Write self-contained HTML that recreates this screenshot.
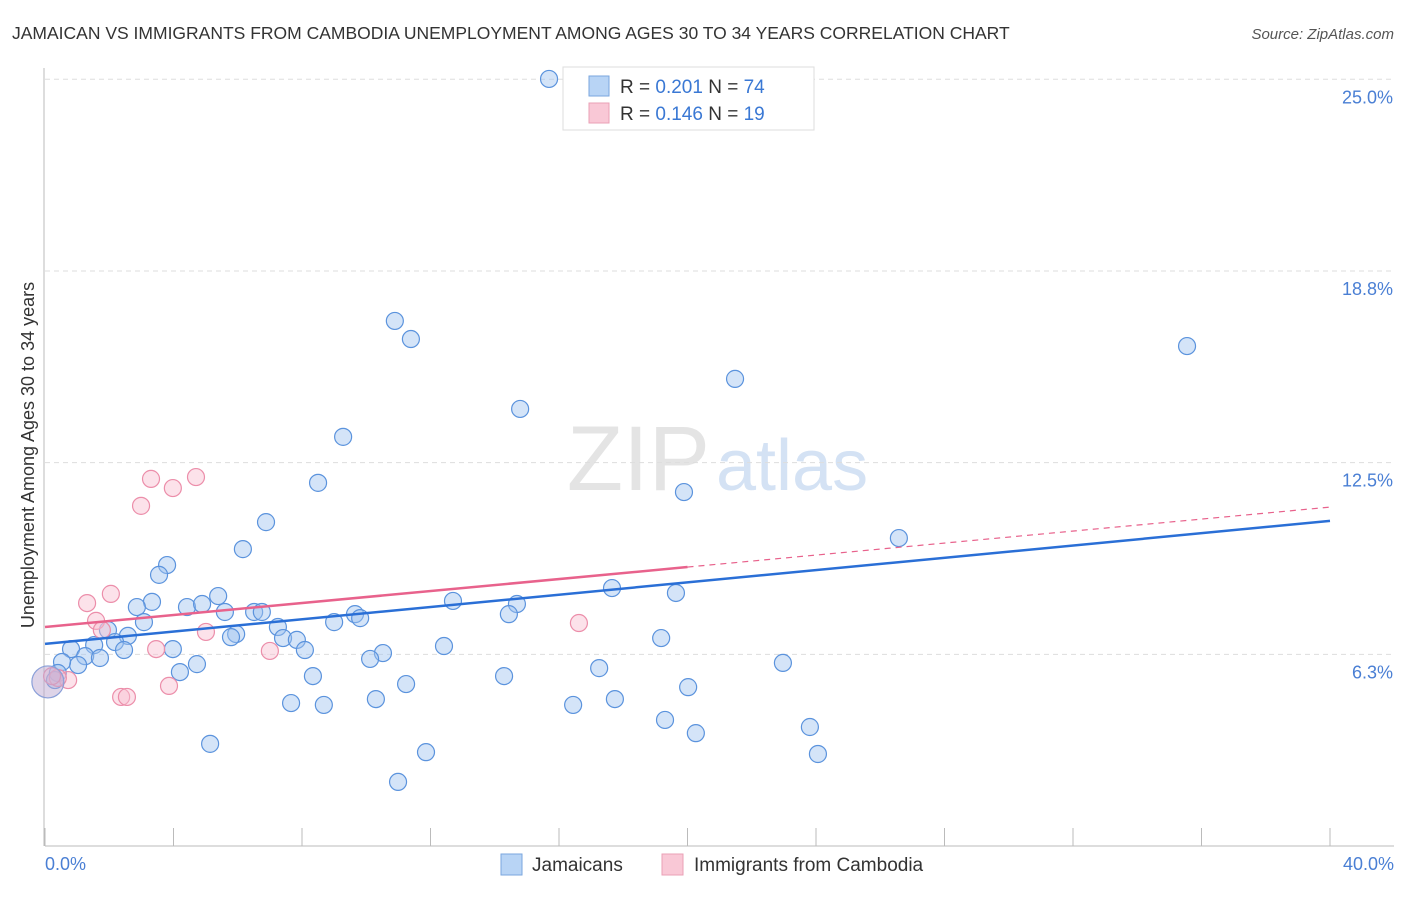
<!DOCTYPE html>
<html><head><meta charset="utf-8"><style>
body{margin:0;background:#fff;font-family:"Liberation Sans",sans-serif}
svg text{font-family:"Liberation Sans",sans-serif}
</style></head><body>
<svg id="c" width="1406" height="892">
<text x="12" y="39" font-size="17.5" fill="#333">JAMAICAN VS IMMIGRANTS FROM CAMBODIA UNEMPLOYMENT AMONG AGES 30 TO 34 YEARS CORRELATION CHART</text>
<text x="1394" y="39" font-size="15" fill="#555" font-style="italic" text-anchor="end">Source: ZipAtlas.com</text>
<text x="710" y="490" font-size="92" fill="#e4e4e4" text-anchor="end" font-family="Liberation Serif">ZIP</text>
<text x="716" y="490" font-size="72" fill="#d4e2f4">atlas</text>
<g id="grid"></g><g id="pts"></g><g id="trend"></g>
<text transform="translate(34,455) rotate(-90)" font-size="18" fill="#333" text-anchor="middle">Unemployment Among Ages 30 to 34 years</text>
<text x="45" y="870" font-size="18" fill="#4a7fd4">0.0%</text>
<text x="1394" y="870" font-size="18" fill="#4a7fd4" text-anchor="end">40.0%</text>
<g>
<rect x="501" y="854" width="21" height="21" fill="#b8d4f5" stroke="#7aa6de"/>
<text x="532" y="871" font-size="19" fill="#333">Jamaicans</text>
<rect x="662" y="854" width="21" height="21" fill="#f9c8d6" stroke="#eaa0b6"/>
<text x="694" y="871" font-size="19" fill="#333">Immigrants from Cambodia</text>
</g>
<g>
<rect x="563" y="67" width="251" height="63" fill="#fff" stroke="#ddd"/>
<rect x="589" y="76" width="20" height="20" fill="#b8d4f5" stroke="#7aa6de"/>
<text x="620" y="93" font-size="19" fill="#333">R = <tspan fill="#3a78d4">0.201</tspan>   N = <tspan fill="#3a78d4">74</tspan></text>
<rect x="589" y="103" width="20" height="20" fill="#f9c8d6" stroke="#eaa0b6"/>
<text x="620" y="120" font-size="19" fill="#333">R = <tspan fill="#3a78d4">0.146</tspan>   N = <tspan fill="#3a78d4">19</tspan></text>
</g>
</svg>
<script>
const yTicks=[25.0,18.75,12.5,6.25];
const yTickLabels=["25.0%","18.8%","12.5%","6.3%"];
const xTicks=[0,4,8,12,16,20,24,28,32,36,40];
const blueX=[15.69,10.89,11.39,35.55,21.48,14.79,9.28,8.50,19.89,6.88,26.58,6.16,3.80,3.55,17.65,19.64,5.39,3.33,2.86,4.42,4.89,12.70,14.69,14.44,9.65,9.81,5.60,6.51,6.75,3.08,9.00,7.25,1.96,2.58,19.18,5.95,5.79,7.41,7.84,2.18,1.53,8.09,2.46,12.42,3.98,0.81,1.25,1.71,10.52,10.12,22.97,4.73,17.25,1.03,0.53,4.20,8.34,14.29,0.40,0.31,11.24,20.02,10.30,7.66,8.68,17.74,16.44,19.30,23.81,20.26,5.14,11.86,24.06,10.99];
const blueY=[25.01,17.12,16.53,16.30,15.23,14.25,13.34,11.84,11.54,10.56,10.04,9.68,9.16,8.84,8.41,8.25,8.15,7.96,7.79,7.79,7.89,7.99,7.89,7.56,7.56,7.43,7.63,7.63,7.63,7.30,7.30,7.14,7.04,6.85,6.78,6.91,6.81,6.78,6.72,6.65,6.55,6.39,6.39,6.52,6.42,6.42,6.19,6.13,6.29,6.10,5.97,5.93,5.80,5.90,6.00,5.67,5.54,5.54,5.64,5.41,5.28,5.18,4.79,4.66,4.60,4.79,4.60,4.11,3.88,3.68,3.33,3.06,3.00,2.09];
const pinkX=[3.30,4.70,3.98,2.99,1.31,2.05,1.59,1.77,5.01,16.62,3.46,7.00,3.86,2.37,2.55,0.72,0.40,0.22];
const pinkY=[11.97,12.03,11.67,11.09,7.92,8.22,7.34,7.04,6.98,7.27,6.42,6.36,5.22,4.86,4.86,5.41,5.48,5.54];
const blueTrend=[6.59,10.60];
const pinkTrend=[7.14,11.05];
const NS="http://www.w3.org/2000/svg";
const xs=v=>45+v*32.125, ys=v=>846-v*30.67;
function mk(t,a,p){const e=document.createElementNS(NS,t);for(const k in a)e.setAttribute(k,a[k]);p.appendChild(e);return e;}
const grid=document.getElementById('grid');
yTicks.forEach((t,i)=>{
 const l=mk('line',{x1:45,x2:1394,y1:ys(t),y2:ys(t),stroke:'#ddd','stroke-dasharray':'5,4'},grid);
 
 
 const tx=mk('text',{x:1393,y:ys(t)+24,'font-size':18,fill:'#4a7fd4','text-anchor':'end'},grid);
 tx.textContent=yTickLabels[i];
 
 
});
const ax=mk('line',{x1:45,x2:1394,y1:846,y2:846,stroke:'#bbb'},grid);


const ay=mk('line',{x1:44,x2:44,y1:68,y2:846,stroke:'#bbb'},grid);


xTicks.forEach(t=>{const l=mk('line',{x1:xs(t),x2:xs(t),y1:828,y2:846,stroke:'#bbb'},grid);
 
 });
const pts=document.getElementById('pts');
blueX.forEach((x,i)=>{const c=mk('circle',{cx:xs(x),cy:ys(blueY[i]),r:8.5,fill:'rgba(160,196,240,0.45)',stroke:'#5b93dd','stroke-width':1.2},pts);
 
 });
pinkX.forEach((x,i)=>{const c=mk('circle',{cx:xs(x),cy:ys(pinkY[i]),r:8.5,fill:'rgba(248,190,208,0.45)',stroke:'#ec8eaa','stroke-width':1.2},pts);
 
 });
const big=mk('circle',{cx:xs(0.09),cy:ys(5.35),r:16,fill:'rgba(190,170,210,0.5)',stroke:'#8a9fd8','stroke-width':1.2},pts);


const tr=document.getElementById('trend');
const bl=mk('line',{x1:xs(0),y1:ys(blueTrend[0]),x2:xs(40),y2:ys(blueTrend[1]),stroke:'#2a6fd6','stroke-width':2.5},tr);


const pm=v=>pinkTrend[0]+(pinkTrend[1]-pinkTrend[0])*v/40;
const p1=mk('line',{x1:xs(0),y1:ys(pm(0)),x2:xs(20),y2:ys(pm(20)),stroke:'#e8628c','stroke-width':2.5},tr);


const p2=mk('line',{x1:xs(20),y1:ys(pm(20)),x2:xs(40),y2:ys(pm(40)),stroke:'#e8628c','stroke-width':1.2,'stroke-dasharray':'6,5'},tr);


</script>
</body></html>
